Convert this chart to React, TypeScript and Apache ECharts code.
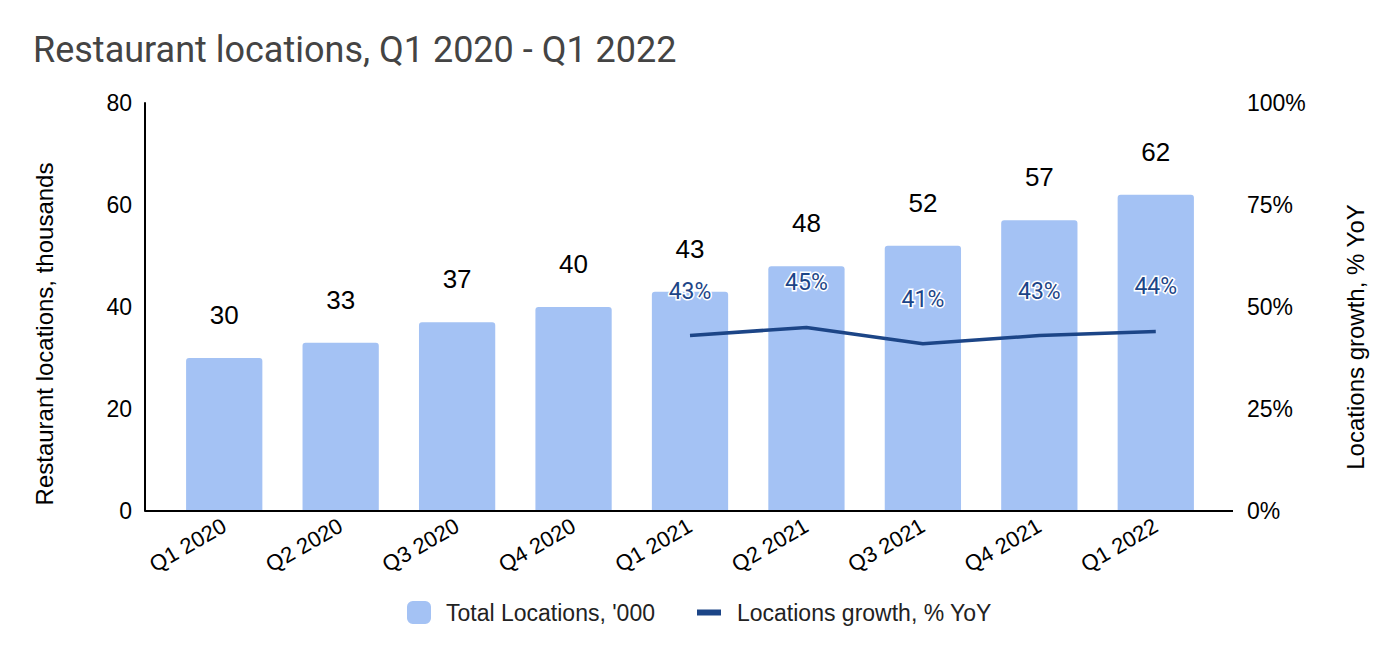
import React, { useEffect, useRef } from "react";
import * as echarts from "echarts";

const categories = ["Q1 2020", "Q2 2020", "Q3 2020", "Q4 2020", "Q1 2021", "Q2 2021", "Q3 2021", "Q4 2021", "Q1 2022"];
const totalLocations = [30, 33, 37, 40, 43, 48, 52, 57, 62];
const growthYoY = [null, null, null, null, 0.43, 0.45, 0.41, 0.43, 0.44];
const leftTicks = { min: 0, max: 80, interval: 20 };
const rightTicks = { min: 0, max: 1, interval: 0.25 };

const BAR_NAME = "Total Locations, '000";
const LINE_NAME = "Locations growth, % YoY";
const LEFT_AXIS_NAME = "Restaurant locations, thousands";
const RIGHT_AXIS_NAME = "Locations growth, % YoY";
const ARIAL = "'Liberation Sans', Arial, sans-serif";

export default function App() {
  const ref = useRef<HTMLDivElement>(null);
  useEffect(() => {
    const chart = echarts.init(ref.current!, null, { renderer: "svg" });
    const gridLeft = 166;
    const gridRight = 186;
    const gridTop = 103;
    const gridBottom = 147;
    chart.setOption({
      animation: false,
      backgroundColor: "#ffffff",
      title: {
        text: "Restaurant locations, Q1 2020 - Q1 2022",
        left: 28,
        top: 27,
        textStyle: { fontFamily: "Roboto", fontSize: 36, fontWeight: "normal", color: "#444444" },
      },
      legend: [
        {
          data: [BAR_NAME],
          left: 402,
          top: 596,
          itemWidth: 24,
          itemHeight: 23,
          icon: "roundRect",
          textStyle: { fontFamily: ARIAL, fontSize: 23, color: "#222222", padding: [0, 0, 0, 10] },
        },
        {
          data: [LINE_NAME],
          left: 692,
          top: 596,
          itemWidth: 24,
          itemHeight: 6,
          icon: "rect",
          textStyle: { fontFamily: ARIAL, fontSize: 23, color: "#222222", padding: [0, 0, 0, 11] },
        },
      ],
      grid: { left: gridLeft, right: gridRight, top: gridTop, bottom: gridBottom, containLabel: false },
      xAxis: {
        type: "category",
        data: categories,
        boundaryGap: true,
        axisLine: { show: false },
        axisTick: { show: false },
        axisLabel: {
          rotate: 30,
          fontFamily: ARIAL,
          fontSize: 22,
          color: "#000000",
          margin: 13,
        },
      },
      yAxis: [
        {
          type: "value",
          min: leftTicks.min,
          max: leftTicks.max,
          interval: leftTicks.interval,
          offset: 21,
          axisLine: { show: true, lineStyle: { color: "#000000", width: 2 } },
          axisTick: { show: false },
          splitLine: { show: false },
          axisLabel: { fontFamily: ARIAL, fontSize: 23, color: "#000000", margin: 13 },
        },
        {
          type: "value",
          min: rightTicks.min,
          max: rightTicks.max,
          interval: rightTicks.interval,
          offset: 19,
          position: "right",
          axisLine: { show: false },
          axisTick: { show: false },
          splitLine: { show: false },
          axisLabel: {
            fontFamily: ARIAL,
            fontSize: 23,
            color: "#000000",
            margin: 14,
            formatter: (v: number) => Math.round(v * 100) + "%",
          },
        },
      ],
      series: [
        {
          name: BAR_NAME,
          type: "bar",
          data: totalLocations,
          barWidth: "65.5%",
          itemStyle: { color: "#a4c2f4", borderRadius: [3, 3, 0, 0] },
          label: {
            show: true,
            position: "top",
            distance: 30,
            fontFamily: ARIAL,
            fontSize: 26,
            color: "#000000",
          },
        },
        {
          name: LINE_NAME,
          type: "line",
          yAxisIndex: 1,
          data: growthYoY,
          symbol: "circle",
          symbolSize: 0.1,
          lineStyle: { color: "#1c4587", width: 3.5 },
          itemStyle: { color: "#1c4587" },
          label: {
            show: true,
            position: "top",
            distance: 33,
            fontFamily: "Roboto",
            fontSize: 23,
            color: "#1c4587",
            textBorderColor: "#ffffff",
            textBorderWidth: 3,
            formatter: (p: any) => (p.value == null ? "" : Math.round(p.value * 100) + "%"),
          },
        },
      ],
      graphic: [
        {
          type: "line",
          shape: { x1: 145, y1: 658 - gridBottom, x2: 1233, y2: 658 - gridBottom },
          style: { stroke: "#000000", lineWidth: 2 },
          z: 10,
        },
        {
          type: "text",
          x: 44,
          y: 334,
          rotation: Math.PI / 2,
          style: {
            text: LEFT_AXIS_NAME,
            fontFamily: ARIAL,
            fontSize: 24,
            fill: "#000000",
            align: "center",
            verticalAlign: "middle",
          },
        },
        {
          type: "text",
          x: 1355,
          y: 337,
          rotation: Math.PI / 2,
          style: {
            text: RIGHT_AXIS_NAME,
            fontFamily: ARIAL,
            fontSize: 24,
            fill: "#000000",
            align: "center",
            verticalAlign: "middle",
          },
        },
      ],
    });
    return () => chart.dispose();
  }, []);
  return (
    <div
      ref={ref}
      style={{ position: "fixed", left: 0, top: 0, width: 1400, height: 658, background: "#fff" }}
    />
  );
}
